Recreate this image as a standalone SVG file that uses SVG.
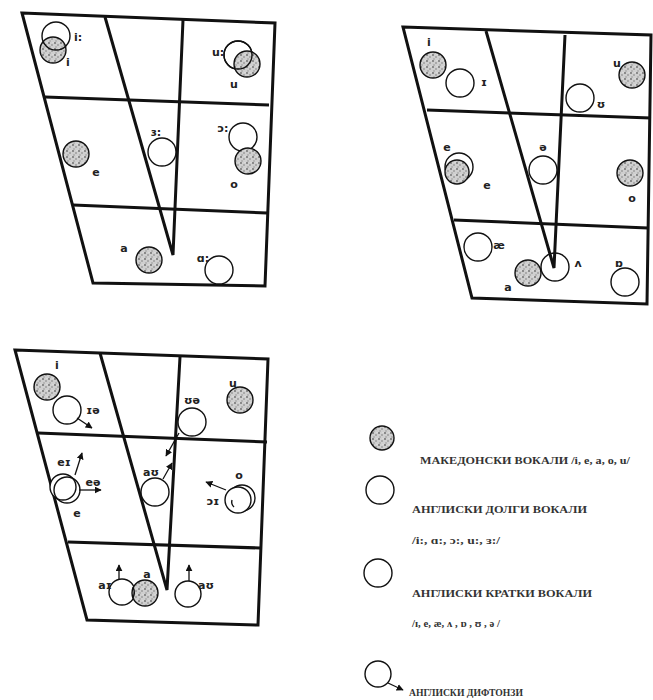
<svg xmlns="http://www.w3.org/2000/svg" width="653" height="700" viewBox="0 0 653 700">
<defs>
<pattern id="stip" width="6" height="6" patternUnits="userSpaceOnUse">
<rect width="6" height="6" fill="#cfcfcf"/>
<circle cx="1" cy="1" r="0.9" fill="#6a6a6a"/>
<circle cx="4" cy="3" r="0.8" fill="#7a7a7a"/>
<circle cx="2" cy="5" r="0.7" fill="#8a8a8a"/>
<circle cx="5" cy="0.5" r="0.5" fill="#eeeeee"/>
</pattern>
<marker id="ah" viewBox="0 0 10 10" refX="9" refY="5" markerWidth="7" markerHeight="7" orient="auto-start-reverse" markerUnits="userSpaceOnUse">
<path d="M0,0 L10,5 L0,10 z" fill="#111"/>
</marker>
<style>
.fr{fill:none;stroke:#111;stroke-width:3;stroke-linejoin:miter}
.op{fill:#fff;stroke:#111;stroke-width:1.4}
.op2{fill:none;stroke:#111;stroke-width:1.4}
.mk{fill:url(#stip);stroke:#111;stroke-width:1.4}
.lb{font-family:"DejaVu Sans",sans-serif;font-size:11px;font-weight:bold;fill:#222;text-anchor:middle}
.lg{font-family:"Liberation Serif",serif;font-size:11px;font-weight:bold;fill:#333}
.ar{stroke:#111;stroke-width:1.3;fill:none;marker-end:url(#ah)}
</style>
</defs>
<rect width="653" height="700" fill="#fff"/>

<!-- Chart 1 -->
<g id="chart1">
<path class="fr" d="M22,13 L275,23 L265,286 L93,283 Z"/>
<path class="fr" d="M45,97 L269,105 M73,205 L267,213"/>
<path class="fr" d="M105,17 L173,255 L183,20"/>
<g id="c1-i"><circle class="mk" cx="53" cy="50" r="13"/><text class="lb" x="68" y="66">i</text></g>
<g id="c1-ii"><circle class="op2" cx="56" cy="36" r="14"/><text class="lb" x="78" y="41">i:</text></g>
<g id="c1-uu"><circle class="op" cx="238" cy="55" r="14"/><text class="lb" x="218" y="56">u:</text></g>
<g id="c1-u"><circle class="mk" cx="247" cy="64" r="13"/><circle class="op2" cx="238" cy="55" r="14"/><text class="lb" x="234" y="88">u</text></g>
<g id="c1-e"><circle class="mk" cx="76" cy="154" r="13"/><text class="lb" x="96" y="176">e</text></g>
<g id="c1-3"><circle class="op" cx="162" cy="152" r="14"/><text class="lb" x="156" y="136">ɜ:</text></g>
<g id="c1-oo"><circle class="op" cx="243" cy="137" r="14"/><text class="lb" x="223" y="132">ɔ:</text></g>
<g id="c1-o"><circle class="mk" cx="248" cy="161" r="13"/><text class="lb" x="234" y="188">o</text></g>
<g id="c1-a"><circle class="mk" cx="149" cy="260" r="13"/><text class="lb" x="124" y="252">a</text></g>
<g id="c1-aa"><circle class="op" cx="219" cy="270" r="14"/><text class="lb" x="203" y="262">ɑ:</text></g>
</g>

<!-- Chart 2 -->
<g id="chart2">
<path class="fr" d="M403,27 L651,35 L647,304 L472,298 Z"/>
<path class="fr" d="M427,110 L651,118 M454,220 L648,228"/>
<path class="fr" d="M486,31 L554,268 L565,35"/>
<g id="c2-i"><circle class="mk" cx="433" cy="65" r="13"/><text class="lb" x="429" y="46">i</text></g>
<g id="c2-I"><circle class="op" cx="460" cy="83" r="14"/><text class="lb" x="484" y="86">ɪ</text></g>
<g id="c2-u"><circle class="mk" cx="632" cy="75" r="13"/><text class="lb" x="617" y="67">u</text></g>
<g id="c2-U"><circle class="op" cx="580" cy="98" r="14"/><text class="lb" x="601" y="108">ʊ</text></g>
<g id="c2-e"><circle class="op" cx="459" cy="167" r="14"/><circle class="mk" cx="457" cy="172" r="12"/><text class="lb" x="447" y="151">e</text><text class="lb" x="487" y="189">e</text></g>
<g id="c2-schwa"><circle class="op" cx="543" cy="170" r="14"/><text class="lb" x="543" y="151">ə</text></g>
<g id="c2-o"><circle class="mk" cx="630" cy="173" r="13"/><text class="lb" x="632" y="202">o</text></g>
<g id="c2-ae"><circle class="op" cx="478" cy="247" r="14"/><text class="lb" x="499" y="249">æ</text></g>
<g id="c2-a"><circle class="mk" cx="528" cy="273" r="13"/><text class="lb" x="508" y="291">a</text></g>
<g id="c2-V"><circle class="op2" cx="555" cy="267" r="14"/><text class="lb" x="578" y="267">ʌ</text></g>
<g id="c2-O"><circle class="op" cx="625" cy="282" r="14"/><text class="lb" x="619" y="267">ɒ</text></g>
</g>

<!-- Chart 3 -->
<g id="chart3">
<path class="fr" d="M15,350 L268,359 L258,625 L87,620 Z"/>
<path class="fr" d="M38,433 L267,442 M68,542 L260,548"/>
<path class="fr" d="M100,353 L167,590 L180,357"/>
<g id="c3-i"><circle class="mk" cx="47" cy="387" r="13"/><text class="lb" x="57" y="369">i</text></g>
<g id="c3-Ie"><circle class="op" cx="67" cy="410" r="14"/><text class="lb" x="93" y="414">ɪə</text></g>
<g id="c3-u"><circle class="mk" cx="240" cy="400" r="13"/><text class="lb" x="233" y="387">u</text></g>
<g id="c3-Ue"><circle class="op" cx="192" cy="422" r="14"/><text class="lb" x="192" y="404">ʊə</text></g>
<g id="c3-e"><circle class="op" cx="63" cy="487" r="13"/><circle class="op2" cx="67" cy="490" r="13"/><text class="lb" x="64" y="466">eɪ</text><text class="lb" x="93" y="486">eə</text><text class="lb" x="77" y="517">e</text></g>
<g id="c3-aU"><circle class="op" cx="155" cy="492" r="14"/><text class="lb" x="151" y="476">aʊ</text></g>
<g id="c3-oI"><circle class="op" cx="242" cy="498" r="13"/><circle class="op" cx="238" cy="500" r="13"/><path class="op2" d="M232,500 A7,7 0 0 0 234,507" stroke-width="0.7"/><text class="lb" x="239" y="479">o</text><text class="lb" x="213" y="505">ɔɪ</text></g>
<g id="c3-aI"><circle class="op" cx="122" cy="592" r="13"/><text class="lb" x="105" y="589">aɪ</text></g>
<g id="c3-a"><circle class="mk" cx="145" cy="593" r="13"/><path class="op2" d="M133,587 A13,13 0 0 1 133,598"/><text class="lb" x="147" y="578">a</text></g>
<g id="c3-aU2"><circle class="op" cx="188" cy="594" r="13"/><text class="lb" x="206" y="589">aʊ</text></g>
</g>

<!-- Legend -->
<g id="legend">
<g id="lg-mk"><circle class="mk" cx="382" cy="438" r="12"/><text class="lg" x="420" y="464" textLength="210" lengthAdjust="spacingAndGlyphs">МАКЕДОНСКИ ВОКАЛИ /i, e, a, o, u/</text></g>
<g id="lg-long"><circle class="op" cx="380" cy="490" r="14"/><text class="lg" x="412" y="513" textLength="175" lengthAdjust="spacingAndGlyphs">АНГЛИСКИ ДОЛГИ ВОКАЛИ</text><text class="lg" x="412" y="544" textLength="88" lengthAdjust="spacingAndGlyphs">/i:, ɑ:, ɔ:, u:, ɜ:/</text></g>
<g id="lg-short"><circle class="op" cx="378" cy="573" r="14"/><text class="lg" x="412" y="597" textLength="180" lengthAdjust="spacingAndGlyphs">АНГЛИСКИ КРАТКИ ВОКАЛИ</text><text class="lg" x="412" y="627" textLength="88" lengthAdjust="spacingAndGlyphs">/ɪ, e, æ, ʌ , ɒ , ʊ , ə /</text></g>
<g id="lg-diph"><circle class="op" cx="378" cy="674" r="13"/><text class="lg" x="409" y="696" textLength="114" lengthAdjust="spacingAndGlyphs">АНГЛИСКИ ДИФТОНЗИ</text></g>
</g>

<!-- Connectors -->
<g id="connectors">
<line class="ar" x1="77" y1="418" x2="92" y2="428"/>
<line class="ar" x1="179" y1="433" x2="166" y2="456"/>
<line class="ar" x1="75" y1="475" x2="82" y2="453"/>
<line class="ar" x1="79" y1="490" x2="101" y2="490"/>
<line class="ar" x1="163" y1="479" x2="172" y2="463"/>
<line class="ar" x1="226" y1="490" x2="206" y2="482"/>
<line class="ar" x1="119" y1="580" x2="119" y2="565"/>
<line class="ar" x1="189" y1="581" x2="189" y2="565"/>
<line class="ar" x1="388" y1="683" x2="403" y2="690"/>
</g>
</svg>
